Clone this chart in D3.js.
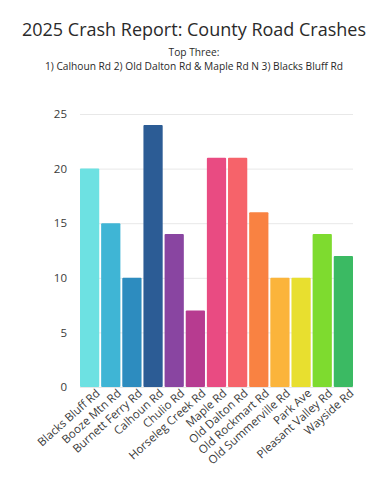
<!DOCTYPE html>
<html>
<head>
<meta charset="utf-8">
<script src="https://cdn.jsdelivr.net/npm/d3@7"></script>
<style>
  body { margin: 0; background: #fff; }
  text { font-family: "Open Sans", sans-serif; }
  .grid line { stroke: #e8e8e8; }
  .grid .domain { display: none; }
  .axis .domain, .axis line { display: none; }
  .axis text { fill: #3a3a3a; }
</style>
</head>
<body>
<div class="chart"></div>
<script>
// === Data ===
const roads = ["Blacks Bluff Rd", "Booze Mtn Rd", "Burnett Ferry Rd", "Calhoun Rd", "Chulio Rd",
  "Horseleg Creek Rd", "Maple Rd", "Old Dalton Rd", "Old Rockmart Rd", "Old Summerville Rd",
  "Park Ave", "Pleasant Valley Rd", "Wayside Rd"];
const crashes = [20, 15, 10, 24, 14, 7, 21, 21, 16, 10, 10, 14, 12];
const barColors = ["#6de1e2", "#3fb5d5", "#2d8cbf", "#2c5c95", "#8945a1", "#b73b90", "#e94b82",
  "#f6636a", "#f98242", "#fbb43b", "#e8df2f", "#7edb2f", "#3bba63"];
const yTicks = [0, 5, 10, 15, 20, 25];
const title = "2025 Crash Report: County Road Crashes";
const subtitle = ["Top Three:", "1) Calhoun Rd 2) Old Dalton Rd & Maple Rd N 3) Blacks Bluff Rd"];

// === Layout ===
const W = 388, H = 502;
const margin = {top: 114, right: 35, bottom: 115, left: 80};
const width = W - margin.left - margin.right,
      height = H - margin.top - margin.bottom;

const root = d3.select(".chart").append("svg")
    .attr("width", W)
    .attr("height", H);

// titles
root.append("text")
    .attr("x", W / 2).attr("y", 36)
    .attr("text-anchor", "middle")
    .attr("font-size", 18)
    .attr("fill", "#2a2a2a")
    .text(title);

root.selectAll(".sub")
    .data(subtitle)
    .enter().append("text")
    .attr("class", "sub")
    .attr("x", W / 2)
    .attr("y", (d, i) => 55.5 + i * 14)
    .attr("text-anchor", "middle")
    .attr("font-size", 10.2)
    .attr("fill", "#2a2a2a")
    .text(d => d);

const svg = root.append("g")
    .attr("transform", `translate(${margin.left},${margin.top})`);

// === Scales ===
const xScale = d3.scaleBand()
    .domain(roads)
    .range([0, width])
    .paddingInner(0.09)
    .paddingOuter(0);

const yScale = d3.scaleLinear()
    .domain([0, 25])
    .range([height, 0]);

// === Grid ===
svg.append("g")
    .attr("class", "grid")
    .call(d3.axisLeft(yScale).tickValues(yTicks).tickSize(-width).tickFormat(""));

// === Axes ===
svg.append("g")
    .attr("class", "axis y-axis")
    .attr("transform", "translate(-10,0)")
    .call(d3.axisLeft(yScale).tickValues(yTicks).tickSize(0))
    .selectAll("text")
    .attr("font-size", 11.5);

svg.append("g")
    .attr("class", "axis x-axis")
    .attr("transform", `translate(0,${height})`)
    .call(d3.axisBottom(xScale).tickSize(0))
    .selectAll("text")
    .attr("font-size", 11.5)
    .attr("text-anchor", "end")
    .attr("dx", "0.3em")
    .attr("dy", "0.85em")
    .attr("transform", "rotate(-42)");

// === Bars ===
svg.selectAll(".bar")
    .data(roads)
    .enter().append("rect")
    .attr("class", "bar")
    .attr("x", d => xScale(d))
    .attr("y", (d, i) => yScale(crashes[i]))
    .attr("width", xScale.bandwidth())
    .attr("height", (d, i) => height - yScale(crashes[i]))
    .attr("rx", 1)
    .attr("fill", (d, i) => barColors[i]);
</script>
</body>
</html>
